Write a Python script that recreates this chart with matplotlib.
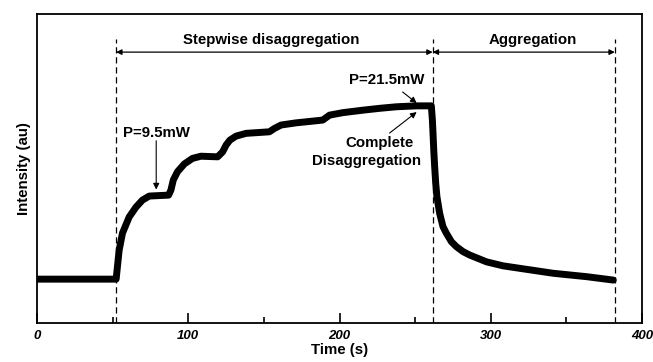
import matplotlib.pyplot as plt

plt.rcParams['font.family'] = ['Liberation Sans', 'DejaVu Sans']

# time (s) and intensity (au, normalized 0..1 of axis height)
time = [0, 52.3, 54.3, 56.5, 60.9, 65.4, 69.7, 74.2, 87.0, 88.5, 90.1, 92.9,
        97.4, 102.8, 108.4, 119.4, 122.7, 125.0, 127.5, 131.6, 138.2, 153.6,
        157.0, 161.4, 171.3, 188.9, 193.4, 202.2, 215.4, 226.5, 237.5, 250.8,
        260.7, 261.4, 261.8, 262.3, 262.9, 263.6, 264.4, 266.2, 268.4, 270.7,
        274.0, 277.3, 281.7, 286.1, 297.2, 308.2, 319.2, 341.3, 363.4, 381.0]
intensity = [0.142, 0.142, 0.236, 0.291, 0.343, 0.375, 0.398, 0.411, 0.414,
             0.430, 0.463, 0.490, 0.515, 0.533, 0.540, 0.538, 0.554, 0.576,
             0.592, 0.605, 0.614, 0.619, 0.630, 0.641, 0.648, 0.657, 0.673,
             0.681, 0.689, 0.695, 0.700, 0.703, 0.703, 0.657, 0.615, 0.560,
             0.506, 0.452, 0.409, 0.355, 0.312, 0.290, 0.263, 0.247, 0.231,
             0.220, 0.198, 0.185, 0.177, 0.161, 0.150, 0.139]

phase_edges = [52.3, 261.6, 382]
phase_names = ["Stepwise disaggregation", "Aggregation"]
phase_label_x = [155, 327.5]
xticks = [0, 100, 200, 300, 400]
minor_xticks = [50, 150, 250, 350]

FS = 10.8

fig = plt.figure(figsize=(6.53, 3.62), dpi=100)
ax = fig.add_axes([0.0567, 0.1077, 0.9265, 0.8533])

ax.plot(time, intensity, color='black', lw=5, solid_capstyle='round',
        solid_joinstyle='round')

# phase boundaries
for x in phase_edges:
    ax.plot([x, x], [0, 0.918], color='black', lw=0.9, ls=(0, (5, 3)))

# double arrows and phase titles
for x0, x1, xt, name in zip(phase_edges[:-1], phase_edges[1:],
                            phase_label_x, phase_names):
    ax.annotate('', xy=(x0, 0.877), xytext=(x1, 0.877),
                arrowprops=dict(arrowstyle='<|-|>', color='black', lw=0.9,
                                mutation_scale=8, shrinkA=0, shrinkB=0))
    ax.text(xt, 0.903, name, ha='center', va='baseline', fontsize=FS,
            fontweight='bold')

# annotations
arrow = dict(arrowstyle='-|>', color='black', lw=0.8, mutation_scale=9,
             shrinkA=0, shrinkB=0)
ax.text(78.8, 0.615, "P=9.5mW", ha='center', va='center', fontsize=FS,
        fontweight='bold')
ax.annotate('', xy=(78.8, 0.432), xytext=(78.8, 0.59), arrowprops=arrow)
ax.text(231.5, 0.786, "P=21.5mW", ha='center', va='center', fontsize=FS,
        fontweight='bold')
ax.annotate('', xy=(251, 0.712), xytext=(241.7, 0.748), arrowprops=arrow)
ax.text(226.5, 0.583, "Complete", ha='center', va='center', fontsize=FS,
        fontweight='bold')
ax.text(218, 0.524, "Disaggregation", ha='center', va='center', fontsize=FS,
        fontweight='bold')
ax.annotate('', xy=(251, 0.683), xytext=(233.1, 0.615), arrowprops=arrow)

ax.set_xlim(0, 400)
ax.set_ylim(0, 1)
ax.set_xticks(xticks)
ax.set_xticks(minor_xticks, minor=True)
ax.set_xticklabels([str(t) for t in xticks], fontweight='bold', style='italic',
                   fontsize=9.5)
ax.set_yticks([])
ax.tick_params(axis='x', which='major', direction='in', length=7, width=1.2,
               pad=5)
ax.tick_params(axis='x', which='minor', direction='in', length=4, width=1.2)
for s in ax.spines.values():
    s.set_linewidth(1.3)

ax.set_xlabel("Time (s)", fontweight='bold', fontsize=FS, labelpad=1)
ax.set_ylabel("Intensity (au)", fontweight='bold', fontsize=FS, labelpad=4)

fig.savefig('out.png', dpi=100)
